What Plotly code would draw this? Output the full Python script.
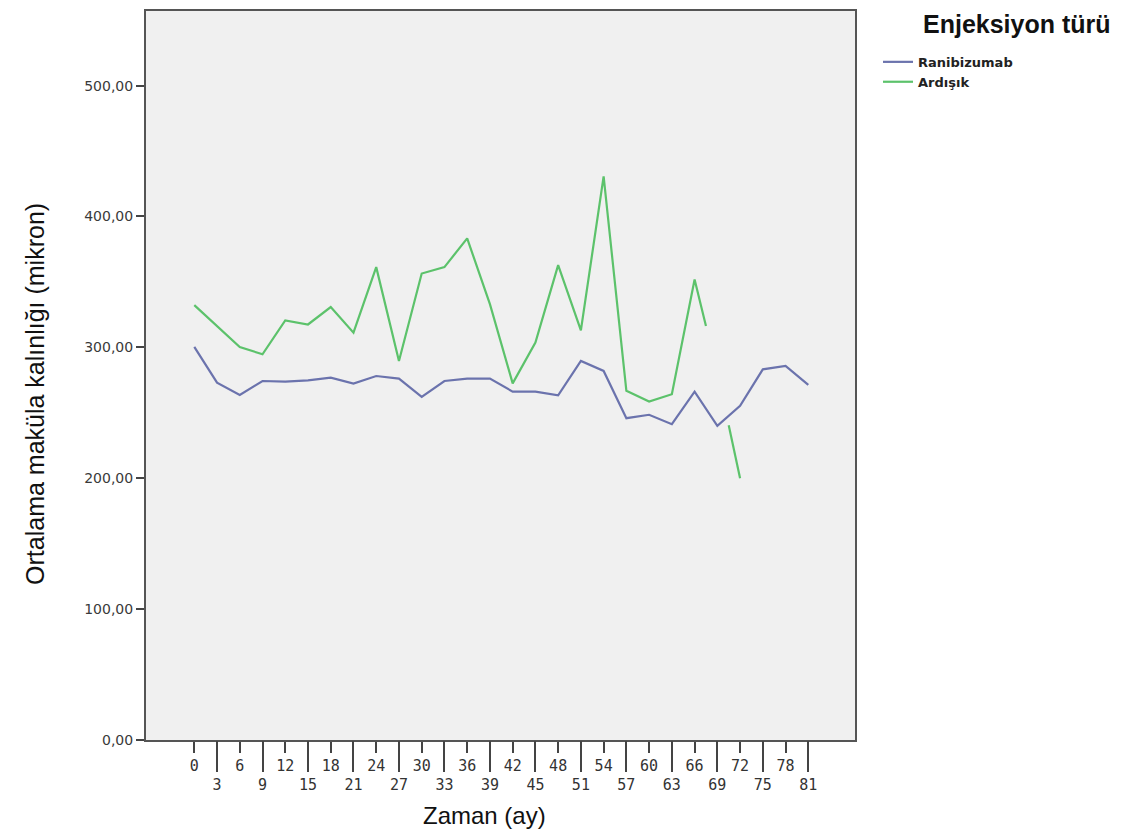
import plotly.graph_objects as go

# ---- data ----
months = [0, 3, 6, 9, 12, 15, 18, 21, 24, 27, 30, 33, 36, 39, 42, 45, 48, 51, 54,
          57, 60, 63, 66, 69, 72, 75, 78, 81]
ranibizumab = [300.4, 273.0, 263.6, 274.3, 273.8, 274.8, 276.9, 272.3, 278.1, 276.1,
               262.1, 274.3, 276.1, 276.1, 266.2, 266.2, 263.4, 289.6, 282.0, 245.9,
               248.5, 241.3, 266.2, 240.0, 255.3, 283.2, 285.8, 271.3]

ardisik_months = [0, 3, 6, 9, 12, 15, 18, 21, 24, 27, 30, 33, 36, 39, 42, 45, 48, 51,
                  54, 57, 60, 63, 66, 67.5, 69, 70.5, 72]
ardisik = [332.3, 316.3, 300.3, 294.7, 320.6, 317.5, 330.8, 311.2, 361.3, 289.6,
           356.4, 361.3, 383.3, 333.0, 272.5, 303.6, 362.8, 313.0, 430.6, 266.8,
           258.6, 264.2, 351.8, 316.3, None, 240.5, 200.0]

tick_row1 = months[0::2]
tick_row2 = months[1::2]
y_ticks = [0, 100, 200, 300, 400, 500]

series_names = ["Ranibizumab", "Ardışık"]
colors = ["#6b73ad", "#5cc26b"]

fig = go.Figure()
fig.add_trace(go.Scatter(x=months, y=ranibizumab, mode="lines",
                         name="<b>" + series_names[0] + "</b>",
                         line=dict(color=colors[0], width=2.2), xaxis="x"))
fig.add_trace(go.Scatter(x=ardisik_months, y=ardisik, mode="lines",
                         name="<b>" + series_names[1] + "</b>",
                         line=dict(color=colors[1], width=2.2), xaxis="x2",
                         connectgaps=False))

xr = [-6.37, 87.16]
tickfont_x = dict(family="DejaVu Sans Mono", size=15, color="#333333")

# page body has an 8px margin, so the figure is sized/offset to compensate
PLOT_L, PLOT_T, PLOT_W, PLOT_H = 146, 9, 709, 731  # absolute page pixels


def px_x(x):
    return (x - PLOT_L) / PLOT_W


def px_y(y):
    return (PLOT_T + PLOT_H - y) / PLOT_H


fig.update_layout(
    width=1115, height=826,
    margin=dict(l=138, r=268, t=1, b=94),
    paper_bgcolor="white",
    plot_bgcolor="#f0f0f0",
    separators=",.",
    showlegend=True,
    legend=dict(x=px_x(878), xanchor="left", y=px_y(45), yanchor="top",
                font=dict(family="DejaVu Sans", size=13, color="#222222"),
                bgcolor="rgba(0,0,0,0)", tracegroupgap=0, itemwidth=30),
    xaxis=dict(range=xr, tickmode="array", tickvals=tick_row1,
               ticktext=[str(v) for v in tick_row1],
               ticks="outside", ticklen=11, tickwidth=2, tickcolor="#444444",
               showline=True, linecolor="#555555", linewidth=2, mirror=True,
               showgrid=False, zeroline=False, tickfont=tickfont_x),
    xaxis2=dict(range=xr, matches="x", overlaying="x", anchor="y", side="bottom",
                tickmode="array", tickvals=tick_row2,
                ticktext=[str(v) for v in tick_row2],
                ticks="outside", ticklen=31, tickwidth=2, tickcolor="#444444",
                showline=False, showgrid=False, zeroline=False, tickfont=tickfont_x),
    yaxis=dict(range=[0, 557], tickmode="array", tickvals=y_ticks, tickformat=".2f",
               ticks="outside", ticklen=8, tickwidth=2, tickcolor="#444444",
               showline=True, linecolor="#555555", linewidth=2, mirror=True,
               showgrid=False, zeroline=False,
               tickfont=dict(family="DejaVu Sans", size=14, color="#3a3a3a")),
    annotations=[
        dict(text="Zaman (ay)", xref="paper", yref="paper",
             x=px_x(484), y=px_y(816), xanchor="center", yanchor="middle",
             showarrow=False,
             font=dict(family="Liberation Sans", size=24, color="#111111")),
        dict(text="Ortalama maküla kalınlığı (mikron)", xref="paper", yref="paper",
             x=px_x(35), y=px_y(393), xanchor="center", yanchor="middle",
             textangle=-90, showarrow=False,
             font=dict(family="Liberation Sans", size=25, color="#111111")),
        dict(text="<b>Enjeksiyon türü</b>", xref="paper", yref="paper",
             x=px_x(921), y=px_y(22), xanchor="left", yanchor="middle",
             showarrow=False,
             font=dict(family="Liberation Sans", size=25, color="#111111")),
    ],
)

fig.write_html("out.html")
